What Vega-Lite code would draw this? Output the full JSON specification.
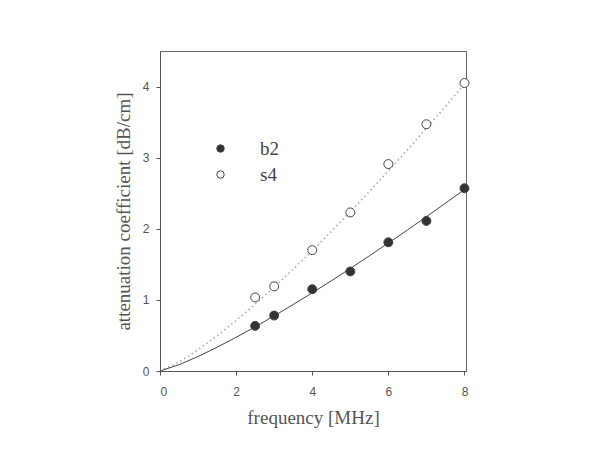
{
  "$schema": "https://vega.github.io/schema/vega-lite/v6.json",
  "autosize": "none",
  "padding": {"left": 160, "top": 51, "right": 143, "bottom": 88},
  "width": 306,
  "height": 320,
  "background": "white",
  "config": {
    "view": {"stroke": "#666", "strokeWidth": 1},
    "axis": {
      "grid": false,
      "domainColor": "#555",
      "tickColor": "#555",
      "tickSize": 4,
      "labelFont": "Liberation Sans",
      "labelFontSize": 12,
      "labelColor": "#555",
      "titleFont": "Liberation Serif",
      "titleFontSize": 19,
      "titleFontWeight": "normal",
      "titleColor": "#555"
    }
  },
  "datasets": {
    "points": [
      {"f": 2.5, "att": 0.635, "sample": "b2"},
      {"f": 3, "att": 0.78, "sample": "b2"},
      {"f": 4, "att": 1.15, "sample": "b2"},
      {"f": 5, "att": 1.40, "sample": "b2"},
      {"f": 6, "att": 1.81, "sample": "b2"},
      {"f": 7, "att": 2.11, "sample": "b2"},
      {"f": 8, "att": 2.57, "sample": "b2"},
      {"f": 2.5, "att": 1.035, "sample": "s4"},
      {"f": 3, "att": 1.19, "sample": "s4"},
      {"f": 4, "att": 1.70, "sample": "s4"},
      {"f": 5, "att": 2.23, "sample": "s4"},
      {"f": 6, "att": 2.91, "sample": "s4"},
      {"f": 7, "att": 3.47, "sample": "s4"},
      {"f": 8, "att": 4.05, "sample": "s4"}
    ],
    "fits": [
      {"f": 0, "att": 0, "sample": "b2"},
      {"f": 0.5, "att": 0.088, "sample": "b2"},
      {"f": 1, "att": 0.204, "sample": "b2"},
      {"f": 1.5, "att": 0.334, "sample": "b2"},
      {"f": 2, "att": 0.474, "sample": "b2"},
      {"f": 2.5, "att": 0.621, "sample": "b2"},
      {"f": 3, "att": 0.775, "sample": "b2"},
      {"f": 3.5, "att": 0.935, "sample": "b2"},
      {"f": 4, "att": 1.099, "sample": "b2"},
      {"f": 4.5, "att": 1.268, "sample": "b2"},
      {"f": 5, "att": 1.442, "sample": "b2"},
      {"f": 5.5, "att": 1.619, "sample": "b2"},
      {"f": 6, "att": 1.799, "sample": "b2"},
      {"f": 6.5, "att": 1.983, "sample": "b2"},
      {"f": 7, "att": 2.170, "sample": "b2"},
      {"f": 7.5, "att": 2.360, "sample": "b2"},
      {"f": 8, "att": 2.552, "sample": "b2"},
      {"f": 0, "att": 0, "sample": "s4"},
      {"f": 0.5, "att": 0.125, "sample": "s4"},
      {"f": 1, "att": 0.298, "sample": "s4"},
      {"f": 1.5, "att": 0.495, "sample": "s4"},
      {"f": 2, "att": 0.710, "sample": "s4"},
      {"f": 2.5, "att": 0.939, "sample": "s4"},
      {"f": 3, "att": 1.180, "sample": "s4"},
      {"f": 3.5, "att": 1.432, "sample": "s4"},
      {"f": 4, "att": 1.693, "sample": "s4"},
      {"f": 4.5, "att": 1.962, "sample": "s4"},
      {"f": 5, "att": 2.239, "sample": "s4"},
      {"f": 5.5, "att": 2.523, "sample": "s4"},
      {"f": 6, "att": 2.814, "sample": "s4"},
      {"f": 6.5, "att": 3.110, "sample": "s4"},
      {"f": 7, "att": 3.413, "sample": "s4"},
      {"f": 7.5, "att": 3.721, "sample": "s4"},
      {"f": 8, "att": 4.035, "sample": "s4"}
    ]
  },
  "encoding": {
    "x": {
      "field": "f",
      "type": "quantitative",
      "scale": {"domain": [0, 8.04], "nice": false, "zero": false},
      "axis": {
        "title": "frequency [MHz]",
        "values": [0, 2, 4, 6, 8],
        "labelPadding": 11,
        "titlePadding": 11
      }
    },
    "y": {
      "field": "att",
      "type": "quantitative",
      "scale": {"domain": [0, 4.5], "nice": false},
      "axis": {
        "title": "attenuation coefficient [dB/cm]",
        "values": [0, 1, 2, 3, 4],
        "labelPadding": 7,
        "titlePadding": 9
      }
    }
  },
  "layer": [
    {
      "data": {"name": "fits"},
      "transform": [{"filter": "datum.sample === 's4'"}],
      "mark": {"type": "line", "color": "#aaa", "strokeWidth": 1.6, "strokeDash": [1.5, 3], "clip": true}
    },
    {
      "data": {"name": "fits"},
      "transform": [{"filter": "datum.sample === 'b2'"}],
      "mark": {"type": "line", "color": "#444", "strokeWidth": 1, "clip": true}
    },
    {
      "data": {"name": "points"},
      "mark": {"type": "point", "filled": true, "shape": "circle", "stroke": "#444", "strokeWidth": 1, "size": 80, "opacity": 1},
      "encoding": {
        "fill": {
          "field": "sample",
          "type": "nominal",
          "scale": {"domain": ["b2", "s4"], "range": ["#333", "#ffffff"]},
          "legend": {
            "title": null,
            "orient": "none",
            "legendX": 51,
            "legendY": 88,
            "padding": 0,
            "symbolType": "circle",
            "symbolSize": 56,
            "symbolStrokeColor": "#444",
            "symbolStrokeWidth": 1,
            "labelFont": "Liberation Serif",
            "labelFontSize": 19,
            "labelColor": "#444",
            "labelOffset": 30,
            "rowPadding": 6
          }
        }
      }
    }
  ]
}
